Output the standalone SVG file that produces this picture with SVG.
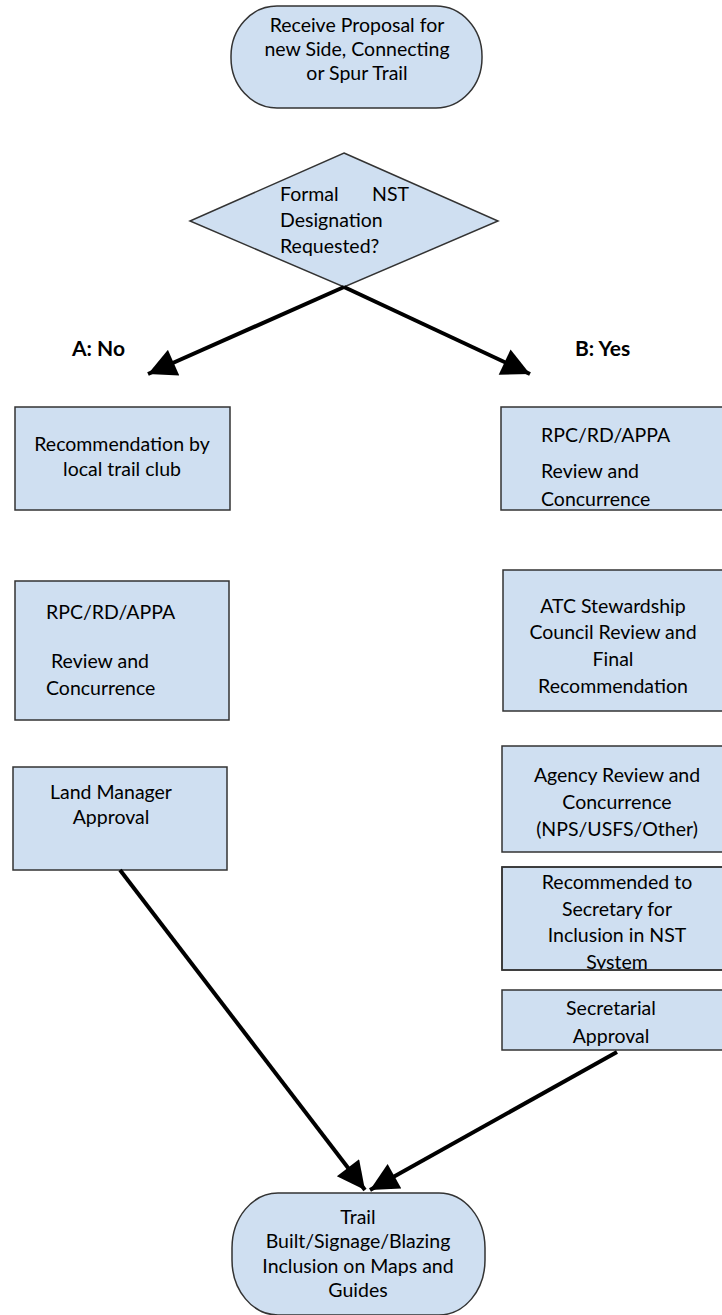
<svg xmlns="http://www.w3.org/2000/svg" width="722" height="1315" viewBox="0 0 722 1315">
<style>
.n{fill:#cfdff1;stroke:#333;stroke-width:1.5}
text{font-family:Lato,"Liberation Sans",sans-serif;font-size:19.5px;fill:#000}
.c{text-anchor:middle}
.b{font-weight:bold;font-size:21px}
.e{stroke:#000;stroke-width:4;fill:none}
</style>
<defs>
<marker id="ah" viewBox="0 0 10 10" refX="10" refY="5" markerWidth="7.5" markerHeight="7" orient="auto" markerUnits="strokeWidth">
<path d="M0,0 L10,5 L0,10 Z" fill="#000"/>
</marker>
<clipPath id="cR4"><rect x="502" y="867" width="220" height="103"/></clipPath>
<clipPath id="cR1"><rect x="501" y="407" width="221" height="104"/></clipPath>
</defs>
<g id="start">
<rect class="n" x="231" y="6" width="251" height="102" rx="46" ry="50"/>
<text class="c" x="357" y="32">Receive Proposal for</text>
<text class="c" x="357" y="56">new Side, Connecting</text>
<text class="c" x="357" y="80">or Spur Trail</text>
</g>
<g id="decision">
<polygon class="n" points="344,153 498,221 344,287 190,221"/>
<text x="280" y="201">Formal</text>
<text x="372" y="201">NST</text>
<text x="280" y="227">Designation</text>
<text x="280" y="253">Requested?</text>
</g>
<g id="labelA"><text class="b" x="72" y="356">A: No</text></g>
<g id="labelB"><text class="b" x="575" y="356">B: Yes</text></g>
<g id="L1">
<rect class="n" x="15" y="407" width="215" height="103"/>
<text class="c" x="122" y="451">Recommendation by</text>
<text class="c" x="122" y="476">local trail club</text>
</g>
<g id="R1">
<rect class="n" x="501" y="407" width="223" height="103"/>
<g clip-path="url(#cR1)">
<text x="541" y="442">RPC/RD/APPA</text>
<text x="541" y="478">Review and</text>
<text x="541" y="506">Concurrence</text>
</g>
</g>
<g id="L2">
<rect class="n" x="15" y="581" width="214" height="139"/>
<text x="46" y="619">RPC/RD/APPA</text>
<text x="51" y="668">Review and</text>
<text x="46" y="695">Concurrence</text>
</g>
<g id="R2">
<rect class="n" x="503" y="570" width="221" height="141"/>
<text class="c" x="613" y="613">ATC Stewardship</text>
<text class="c" x="613" y="639">Council Review and</text>
<text class="c" x="613" y="666">Final</text>
<text class="c" x="613" y="693">Recommendation</text>
</g>
<g id="L3">
<rect class="n" x="13" y="767" width="214" height="103"/>
<text class="c" x="111" y="799">Land Manager</text>
<text class="c" x="111" y="824">Approval</text>
</g>
<g id="R3">
<rect class="n" x="502" y="746" width="222" height="106"/>
<text class="c" x="617" y="782">Agency Review and</text>
<text class="c" x="617" y="809">Concurrence</text>
<text class="c" x="617" y="836">(NPS/USFS/Other)</text>
</g>
<g id="R4">
<rect class="n" x="502" y="867" width="222" height="103"/>
<g clip-path="url(#cR4)">
<text class="c" x="617" y="889">Recommended to</text>
<text class="c" x="617" y="916">Secretary for</text>
<text class="c" x="617" y="942">Inclusion in NST</text>
<text class="c" x="617" y="969">System</text>
</g>
<rect x="502" y="867" width="222" height="103" fill="none" stroke="#333" stroke-width="1.5"/>
</g>
<g id="R5">
<rect class="n" x="502" y="990" width="222" height="60"/>
<text class="c" x="611" y="1015">Secretarial</text>
<text class="c" x="611" y="1043">Approval</text>
</g>
<g id="end">
<rect class="n" x="232" y="1193" width="253" height="122" rx="46" ry="55"/>
<text class="c" x="358" y="1224">Trail</text>
<text class="c" x="358" y="1248">Built/Signage/Blazing</text>
<text class="c" x="358" y="1273">Inclusion on Maps and</text>
<text class="c" x="358" y="1297">Guides</text>
</g>
<g id="connectors">
<line class="e" x1="344" y1="287" x2="148" y2="374" marker-end="url(#ah)"/>
<line class="e" x1="344" y1="287" x2="530" y2="374" marker-end="url(#ah)"/>
<line class="e" x1="120" y1="870" x2="365" y2="1190" marker-end="url(#ah)"/>
<line class="e" x1="617" y1="1052" x2="370" y2="1190" marker-end="url(#ah)"/>
</g>
</svg>
